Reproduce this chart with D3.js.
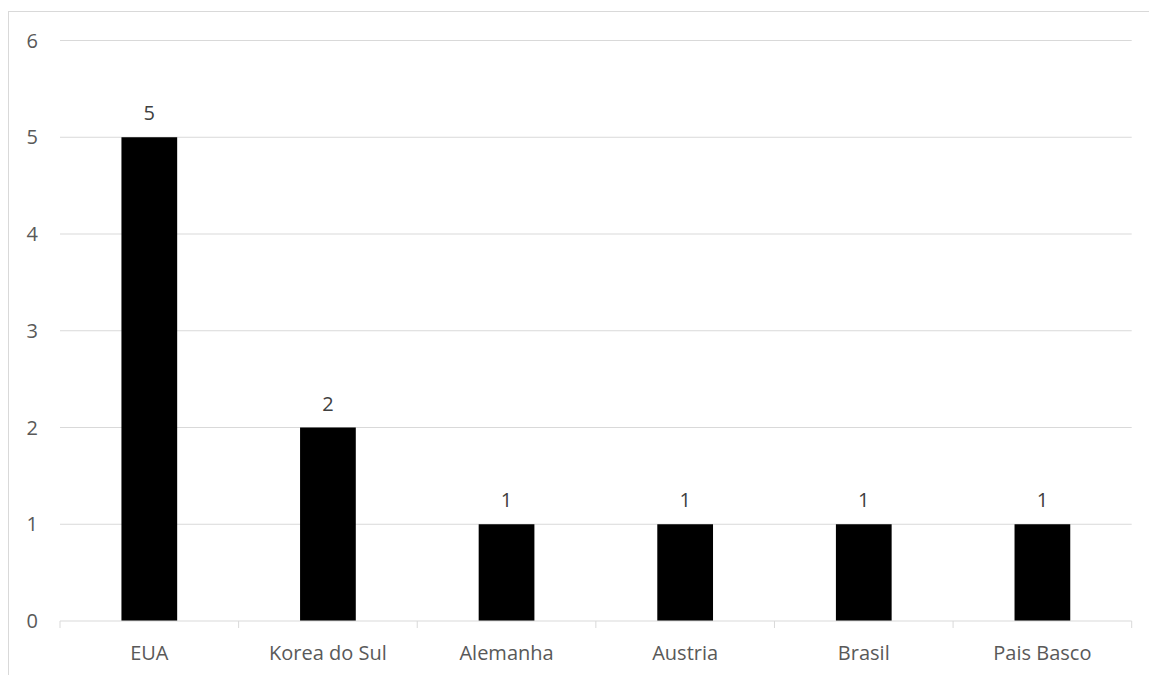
<!DOCTYPE html>
<html lang="pt">
<head>
<meta charset="UTF-8">
<title>Bar chart</title>
<script src="https://d3js.org/d3.v7.min.js"></script>
<style>
    body { margin: 0; background: #fff; font-family: "Open Sans", Arial, sans-serif; }
    svg { display: block; }
    .tick-label { font-size: 20px; fill: #595959; }
    .value-label { font-size: 20px; fill: #404040; }
</style>
</head>
<body>
<svg></svg>
<script>
    const countries = ["EUA", "Korea do Sul", "Alemanha", "Austria", "Brasil", "Pais Basco"];
    const counts = [5, 2, 1, 1, 1, 1];
    const yTicks = [0, 1, 2, 3, 4, 5, 6];

    const W = 1149, H = 675;
    const margin = { top: 40.5, right: 17.3, bottom: 54, left: 60 };
    const width = W - margin.left - margin.right;
    const height = H - margin.top - margin.bottom;

    const root = d3.select("svg").attr("width", W).attr("height", H);

    // chart frame (runs off the right / bottom edge)
    root.append("rect")
        .attr("x", 8.5).attr("y", 11.5)
        .attr("width", W).attr("height", H)
        .attr("fill", "none").attr("stroke", "#d9d9d9");

    const svg = root.append("g").attr("transform", `translate(${margin.left},${margin.top})`);

    const x = d3.scaleBand().domain(countries).range([0, width]).paddingInner(0.688).paddingOuter(0.344);
    const xb = d3.scaleBand().domain(countries).range([0, width]);
    const y = d3.scaleLinear().domain([0, 6]).range([height, 0]);

    // gridlines
    svg.selectAll(".grid").data(yTicks.filter(d => d > 0)).enter().append("line")
        .attr("x1", 0).attr("x2", width)
        .attr("y1", d => y(d)).attr("y2", d => y(d))
        .attr("stroke", "#d9d9d9").attr("stroke-width", 1);

    // y tick labels
    svg.selectAll(".ylab").data(yTicks).enter().append("text")
        .attr("class", "tick-label")
        .attr("x", -22).attr("y", d => y(d))
        .attr("dy", "0.35em")
        .attr("text-anchor", "end")
        .text(d => d);

    // bars
    svg.selectAll(".bar").data(countries).enter().append("rect")
        .attr("x", (d) => x(d))
        .attr("width", x.bandwidth())
        .attr("y", (d, i) => y(counts[i]))
        .attr("height", (d, i) => height - y(counts[i]))
        .attr("fill", "#000");

    // value labels
    svg.selectAll(".val").data(countries).enter().append("text")
        .attr("class", "value-label")
        .attr("x", d => x(d) + x.bandwidth() / 2)
        .attr("y", (d, i) => y(counts[i]) - 24)
        .attr("dy", "0.35em")
        .attr("text-anchor", "middle")
        .text((d, i) => counts[i]);

    // x axis line + ticks at category boundaries
    svg.append("line")
        .attr("x1", 0).attr("x2", width)
        .attr("y1", height).attr("y2", height)
        .attr("stroke", "#d9d9d9");
    const bounds = countries.map(d => xb(d)).concat([width]);
    svg.selectAll(".xtick").data(bounds).enter().append("line")
        .attr("x1", d => d).attr("x2", d => d)
        .attr("y1", height).attr("y2", height + 7)
        .attr("stroke", "#d9d9d9");

    // category labels
    svg.selectAll(".xlab").data(countries).enter().append("text")
        .attr("class", "tick-label")
        .attr("x", d => xb(d) + xb.bandwidth() / 2)
        .attr("y", height + 32)
        .attr("dy", "0.35em")
        .attr("text-anchor", "middle")
        .text(d => d);
</script>
</body>
</html>
